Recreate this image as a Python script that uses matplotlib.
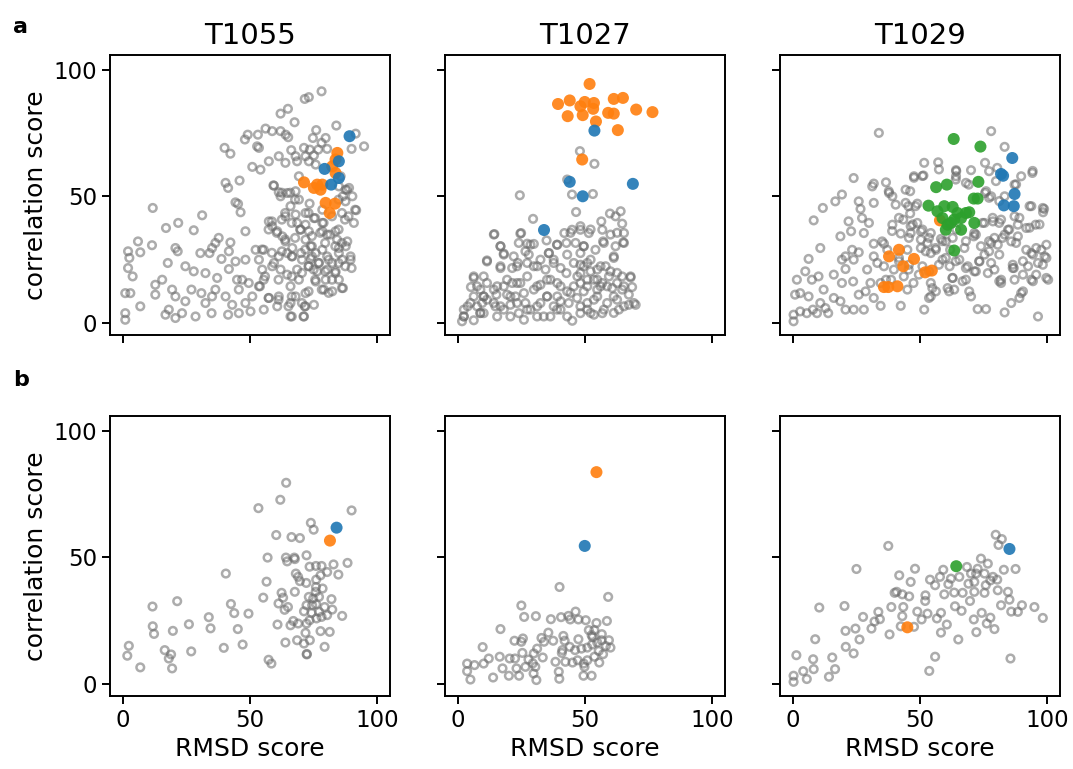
import numpy as np
import matplotlib

matplotlib.use("Agg")
import matplotlib.pyplot as plt  # noqa: E402

TARGETS = ["T1055", "T1027", "T1029"]
ROW_LABELS = ["a", "b"]

# (RMSD score, correlation score) per model; row a = all models, row b = subset
a_T1055_gray = [
    (78.1, 91.4), (71.5, 88.4), (73.1, 89.1), (64.9, 84.5), (62.0, 82.6), (67.5, 79.2),
    (56.1, 76.7), (49.1, 74.3), (53.1, 74.3), (58.7, 75.7), (62.0, 75.7), (64.0, 74.3),
    (65.0, 73.3), (48.0, 72.4), (52.8, 69.7), (53.5, 69.1), (76.0, 76.1), (83.9, 77.9),
    (74.7, 73.0), (79.7, 73.0), (78.1, 71.1), (71.2, 69.1), (73.5, 68.4), (76.8, 68.4),
    (80.3, 68.7), (91.5, 74.7), (89.9, 68.7), (94.8, 69.7), (40.0, 69.1), (42.3, 66.8),
    (66.2, 68.2), (57.4, 63.8), (61.3, 65.8), (63.9, 63.2), (67.9, 65.8), (68.5, 63.8),
    (71.8, 65.8), (73.1, 63.8), (75.1, 66.1), (75.8, 62.5), (50.9, 61.6), (54.1, 60.5),
    (40.4, 55.3), (41.4, 53.3), (45.9, 56.2), (59.4, 54.2), (61.3, 51.6), (62.0, 50.0),
    (64.6, 51.3), (67.9, 52.0), (69.2, 48.7), (73.4, 47.1), (69.2, 57.9), (85.6, 57.9),
    (88.9, 53.3), (86.5, 50.0), (90.2, 50.0), (87.5, 48.0), (91.7, 44.5), (87.3, 40.8),
    (90.8, 39.5), (11.8, 45.4), (31.2, 42.5), (44.3, 47.6), (45.3, 47.0), (46.3, 43.7),
    (48.2, 36.2), (17.0, 37.5), (21.8, 39.5), (27.9, 36.6), (57.4, 40.1), (58.7, 38.2),
    (60.7, 36.2), (62.7, 34.2), (63.9, 32.2), (67.9, 42.8), (68.5, 39.5), (69.9, 36.8),
    (71.8, 38.8), (73.1, 36.2), (75.1, 41.4), (78.4, 39.5), (78.4, 36.2), (80.3, 34.9),
    (83.6, 36.2), (84.2, 32.9), (84.9, 29.6), (87.6, 30.3), (89.5, 26.3), (89.9, 21.7),
    (86.2, 25.0), (71.8, 32.9), (73.8, 30.3), (75.8, 27.6), (78.4, 28.9), (80.3, 26.3),
    (77.1, 23.7), (82.3, 23.7), (73.1, 22.4), (80.3, 21.1), (83.6, 20.4), (75.8, 16.4),
    (79.7, 17.1), (84.9, 17.1), (86.5, 13.8), (79.0, 13.2), (82.3, 12.5), (71.8, 11.8),
    (67.9, 10.5), (65.9, 7.9), (71.5, 6.6), (65.9, 2.6), (71.2, 2.6), (75.1, 7.2),
    (61.3, 10.5), (60.7, 6.6), (55.4, 5.3), (57.4, 9.9), (53.5, 14.5), (49.5, 15.8),
    (46.9, 17.1), (45.6, 13.2), (44.9, 17.1), (54.8, 21.1), (55.4, 17.1), (58.7, 22.4),
    (62.0, 21.1), (64.6, 19.1), (68.5, 21.1), (69.2, 17.1), (65.9, 14.5), (61.3, 26.3),
    (55.4, 28.9), (53.5, 25.0), (52.2, 28.9), (59.4, 23.7), (66.6, 26.3), (66.6, 29.6),
    (70.0, 27.6), (64.6, 27.6), (42.3, 31.8), (41.7, 28.3), (37.7, 33.6), (36.4, 31.6),
    (35.1, 29.6), (34.1, 27.6), (30.5, 27.6), (38.8, 25.3), (44.3, 24.3), (48.2, 25.0),
    (41.7, 21.3), (37.1, 17.8), (32.5, 19.7), (27.9, 20.4), (24.6, 22.4), (17.7, 23.7),
    (20.7, 29.6), (21.6, 28.3), (11.5, 30.7), (6.0, 32.2), (6.9, 27.9), (2.1, 28.3),
    (2.6, 25.7), (2.1, 21.7), (3.9, 18.4), (12.8, 15.1), (15.5, 17.1), (19.4, 13.2),
    (20.7, 10.5), (24.6, 8.6), (27.0, 13.2), (30.9, 11.8), (36.4, 13.2), (35.1, 10.5),
    (32.5, 7.9), (28.6, 2.6), (23.3, 3.9), (20.7, 2.0), (16.8, 3.3), (18.1, 5.3),
    (12.8, 11.2), (6.9, 6.6), (3.0, 11.8), (1.0, 11.8), (1.0, 3.9), (1.0, 1.3),
    (41.4, 3.3), (43.0, 7.2), (48.2, 7.9), (45.6, 3.9), (50.2, 4.6), (34.9, 3.9),
    (40.4, 10.5), (50.9, 10.5), (73.8, 25.3), (76.4, 20.4), (84.9, 27.6), (89.5, 25.0),
    (88.2, 32.2), (78.4, 44.7), (71.8, 43.4), (65.9, 46.1), (63.9, 42.1), (87.5, 52.6),
    (84.9, 53.9),
    # dense block around RMSD 55-90
    (59.2, 54.3), (62.5, 51.4), (65.8, 51.4), (67.7, 48.7), (63.8, 43.4), (62.5, 40.8),
    (66.4, 39.5), (58.6, 40.1), (57.3, 36.9), (60.5, 35.6), (63.8, 33.0), (67.7, 33.6),
    (69.7, 36.9), (74.3, 34.3), (78.9, 39.5), (77.6, 35.6), (81.5, 34.9), (84.8, 36.9),
    (74.3, 30.3), (79.5, 31.6), (83.5, 30.3), (86.1, 31.6), (71.7, 29.0), (54.7, 29.0),
    (58.6, 27.7), (62.5, 28.3), (66.4, 26.3), (70.4, 25.0), (74.3, 26.3), (76.9, 23.7),
    (80.9, 25.0), (84.8, 23.7), (73.0, 22.4), (75.0, 21.1), (79.5, 20.4), (83.5, 19.8),
    (87.4, 22.4), (70.4, 19.8), (66.4, 18.4), (61.2, 17.1), (55.9, 18.4), (53.9, 14.5),
    (57.3, 9.9), (61.2, 9.2), (66.4, 10.5), (70.4, 7.9), (73.0, 12.5), (78.2, 13.2),
    (80.9, 11.9), (86.1, 13.8), (82.2, 17.1), (75.6, 17.1), (66.4, 2.6), (71.0, 2.6),
    (71.7, 6.6), (65.1, 6.6), (84.8, 48.7), (88.1, 52.6), (88.7, 42.1), (91.3, 44.7),
    (86.1, 43.4), (82.2, 42.1), (73.0, 43.4), (75.6, 41.4),
]
a_T1055_orange = [
    (84.3, 67.1), (83.6, 64.5), (82.3, 61.8), (83.6, 59.2), (71.2, 55.5), (76.4, 54.6),
    (75.1, 53.3), (78.4, 54.6), (77.7, 52.6), (79.7, 47.4), (83.4, 47.1), (81.3, 43.4),
]
a_T1055_green = []
a_T1055_blue = [(89.1, 73.7), (79.3, 60.8), (84.9, 63.8), (84.9, 57.2), (81.9, 54.6)]

a_T1027_gray = [
    (48.0, 67.8), (53.7, 62.8), (43.0, 56.6), (24.4, 50.4), (44.9, 50.7), (53.1, 50.9),
    (46.5, 43.8), (29.6, 41.1), (59.8, 43.2), (64.0, 44.1), (56.4, 40.1), (64.6, 39.2),
    (62.0, 42.1), (14.4, 35.1), (24.9, 35.5), (24.0, 31.6), (16.8, 30.3), (11.5, 24.7),
    (18.1, 27.4), (27.3, 31.3), (26.6, 28.3), (29.9, 31.2), (34.9, 32.6), (39.1, 30.9),
    (41.9, 35.5), (44.9, 36.8), (48.2, 36.8), (51.5, 35.5), (56.8, 36.8), (60.0, 34.9),
    (65.3, 35.5), (65.0, 31.8), (62.0, 30.3), (57.1, 32.2), (54.1, 28.9), (49.5, 30.3),
    (46.3, 31.6), (42.7, 31.6), (35.8, 27.6), (37.7, 25.0), (6.3, 17.8), (5.2, 14.2),
    (10.2, 18.4), (16.8, 21.7), (21.4, 21.7), (23.6, 23.7), (27.3, 23.7), (31.2, 22.4),
    (34.5, 21.1), (40.4, 21.7), (45.6, 23.7), (48.2, 27.6), (50.9, 23.7), (52.2, 20.4),
    (54.8, 21.1), (58.1, 22.4), (61.3, 25.7), (59.4, 18.4), (64.6, 18.4), (67.9, 18.0),
    (68.5, 14.2), (67.2, 11.2), (69.9, 7.2), (63.3, 5.3), (58.7, 7.9), (54.8, 10.5),
    (49.5, 12.5), (48.2, 15.8), (45.6, 14.5), (43.0, 12.5), (39.1, 15.8), (35.1, 17.1),
    (32.5, 15.1), (29.9, 13.2), (24.6, 15.8), (21.4, 15.8), (18.1, 14.5), (14.2, 13.2),
    (11.5, 9.2), (14.8, 6.6), (16.8, 6.6), (20.7, 7.2), (24.0, 3.9), (26.6, 7.9),
    (28.6, 5.3), (32.5, 7.9), (35.1, 10.5), (37.7, 6.6), (40.4, 5.3), (45.0, 0.9),
    (48.2, 3.9), (50.9, 5.3), (53.5, 3.3), (56.8, 3.9), (50.9, 7.9), (46.9, 9.9),
    (43.6, 7.9), (36.4, 2.6), (31.2, 2.6), (26.0, 1.3), (20.7, 2.6), (15.5, 2.6),
    (10.2, 3.9), (6.3, 1.1), (2.4, 2.6), (1.7, 0.7), (3.9, 6.6), (7.6, 6.6),
    (8.9, 3.9), (10.2, 10.5), (6.3, 10.5), (64.6, 13.2), (61.3, 10.5), (67.2, 7.2),
    (56.1, 14.5), (60.7, 13.8), (62.6, 15.8), (48.2, 19.7), (49.5, 22.4), (42.7, 19.7),
    (50.9, 17.1), (53.5, 17.1), (56.8, 15.8), (39.1, 10.5), (26.0, 11.8), (22.7, 10.5),
    (19.4, 11.2), (15.2, 11.2), (8.9, 13.2), (9.6, 7.9),
    # dense low band
    (14.2, 34.9), (24.6, 35.3), (16.8, 30.3), (18.1, 27.0), (28.6, 30.9), (11.5, 24.3),
    (22.0, 26.3), (27.9, 27.0), (16.8, 22.4), (23.3, 22.4), (29.9, 22.4), (35.8, 27.6),
    (39.0, 30.9), (44.3, 35.6), (48.2, 38.2), (52.2, 36.9), (57.4, 31.6), (62.6, 35.6),
    (65.3, 31.6), (61.3, 26.3), (49.5, 30.3), (43.0, 27.0), (37.7, 23.7), (32.5, 25.0),
    (48.2, 23.0), (52.2, 25.0), (56.1, 22.4), (60.0, 20.4), (67.9, 18.4), (65.3, 14.5),
    (69.2, 7.9), (65.3, 6.6), (58.7, 14.5), (54.8, 17.1), (50.9, 14.5), (47.0, 18.4),
    (44.3, 11.9), (40.4, 14.5), (36.4, 17.1), (35.1, 10.5), (31.2, 14.5), (27.3, 18.4),
    (23.3, 15.8), (19.4, 17.1), (15.5, 14.5), (11.5, 15.8), (7.6, 14.5), (6.3, 18.4),
    (10.2, 10.5), (14.2, 7.9), (5.0, 7.9), (2.4, 5.3), (2.4, 2.6), (8.9, 4.0),
    (18.1, 5.3), (23.3, 7.9), (27.3, 5.3), (31.2, 6.6), (33.8, 2.6), (39.0, 5.3),
    (43.0, 2.6), (48.2, 6.6), (52.2, 4.0), (57.4, 5.3), (61.3, 4.0), (62.6, 9.2),
    (53.5, 9.2), (40.4, 8.6), (20.7, 10.5), (62.6, 19.8), (54.8, 13.2),
]
a_T1027_orange = [
    (51.8, 94.3), (39.4, 86.4), (44.0, 87.8), (48.2, 85.5), (49.9, 87.2), (53.5, 86.8),
    (53.2, 84.5), (61.3, 88.4), (64.9, 88.8), (43.2, 81.6), (49.1, 82.0), (59.1, 82.9),
    (61.3, 82.6), (70.1, 84.2), (76.5, 83.2), (54.3, 79.5), (62.9, 76.1), (48.9, 64.5),
]
a_T1027_green = []
a_T1027_blue = [(53.7, 75.9), (44.0, 55.7), (49.1, 50.0), (68.8, 54.9), (33.9, 36.7)]

a_T1029_gray = [
    (33.8, 75.0), (77.9, 75.7), (83.2, 69.5), (51.6, 63.2), (57.1, 63.4), (75.5, 63.2),
    (64.1, 60.3), (70.0, 60.3), (80.3, 61.2), (94.1, 59.2), (47.6, 57.9), (51.3, 58.2),
    (64.1, 57.9), (69.1, 54.6), (89.7, 57.9), (23.9, 57.2), (31.2, 53.9), (31.8, 55.0),
    (36.6, 55.5), (44.3, 52.6), (46.1, 52.0), (37.8, 51.3), (39.1, 50.0), (75.5, 51.3),
    (77.9, 50.0), (83.2, 50.0), (87.1, 54.6), (19.3, 50.7), (16.7, 48.0), (25.9, 48.0),
    (11.8, 45.4), (8.2, 40.5), (31.8, 47.4), (26.6, 45.0), (21.9, 40.1), (27.2, 41.4),
    (29.9, 39.5), (22.9, 36.2), (27.9, 35.5), (18.7, 34.2), (39.1, 38.8), (43.4, 40.8),
    (46.1, 43.2), (45.4, 46.1), (48.9, 47.1), (46.3, 38.2), (48.9, 39.5), (50.3, 36.2),
    (42.4, 35.3), (46.3, 35.5), (54.2, 35.5), (58.2, 33.2), (62.8, 33.6), (71.1, 34.2),
    (71.3, 35.5), (75.3, 39.5), (78.6, 40.1), (81.8, 40.8), (84.5, 36.8), (88.4, 38.8),
    (91.7, 37.5), (95.4, 38.8), (93.7, 46.1), (98.7, 45.0), (98.3, 43.7), (87.1, 42.1),
    (83.2, 34.9), (77.9, 31.6), (80.5, 30.9), (85.8, 32.2), (88.4, 34.2), (73.9, 30.3),
    (67.4, 29.6), (60.1, 32.2), (61.8, 28.9), (56.2, 28.9), (52.9, 31.6), (50.3, 29.6),
    (35.8, 31.3), (31.8, 31.3), (25.9, 27.9), (23.3, 28.9), (20.7, 26.3), (10.8, 29.6),
    (6.2, 25.3), (19.3, 25.0), (23.9, 25.0), (20.7, 21.3), (16.1, 19.1), (19.3, 15.8),
    (23.7, 16.4), (29.2, 21.1), (33.2, 23.7), (31.8, 26.3), (35.1, 32.2), (36.6, 17.1),
    (42.4, 6.8), (54.2, 15.8), (54.2, 10.5), (56.2, 12.5), (51.6, 5.3), (50.9, 22.4),
    (54.2, 27.6), (58.8, 25.0), (61.6, 22.4), (65.4, 25.0), (68.7, 22.4), (71.3, 20.4),
    (73.3, 24.3), (75.3, 27.0), (77.9, 23.7), (68.0, 17.1), (62.8, 17.8), (60.8, 13.8),
    (63.4, 13.2), (70.0, 10.5), (72.6, 5.5), (75.9, 5.5), (83.2, 4.2), (85.8, 7.9),
    (89.7, 11.8), (81.8, 15.8), (81.8, 17.1), (86.8, 21.7), (87.1, 17.1), (92.4, 22.4),
    (93.7, 17.1), (96.3, 23.7), (97.6, 28.9), (98.9, 26.3), (99.6, 17.8), (100.3, 17.1),
    (96.3, 2.6), (93.7, 27.6), (91.7, 28.9), (76.6, 19.7), (79.2, 21.1), (28.6, 12.5),
    (25.9, 11.2), (27.9, 5.3), (31.8, 9.9), (34.5, 6.8), (23.9, 5.3), (20.7, 5.3),
    (18.7, 8.6), (16.1, 9.9), (12.1, 13.2), (10.1, 18.4), (7.5, 17.1), (4.9, 20.4),
    (1.6, 17.1), (2.9, 11.8), (0.9, 11.2), (6.2, 10.5), (10.8, 7.9), (13.9, 3.9),
    (9.5, 3.9), (5.5, 3.9), (2.9, 4.6), (0.3, 3.3), (0.3, 0.7), (7.9, 5.3),
    (12.8, 5.9), (38.6, 17.1), (43.6, 18.4), (45.5, 21.1), (47.4, 15.8), (45.0, 13.2),
    (34.5, 15.8), (30.5, 15.8), (39.7, 21.1), (35.8, 22.4), (41.7, 25.7), (45.0, 28.9),
    (37.1, 28.9), (50.3, 32.9), (79.2, 33.6),
    # right-hand block
    (47.6, 57.3), (50.9, 58.0), (57.4, 60.6), (64.2, 59.9), (64.0, 56.6), (68.0, 55.3),
    (77.1, 59.9), (79.8, 56.0), (94.2, 60.0), (75.9, 52.0), (77.1, 49.4), (81.1, 48.1),
    (87.7, 54.7), (93.0, 46.1), (98.2, 45.4), (37.7, 52.0), (40.4, 46.7), (44.3, 47.4),
    (48.2, 46.1), (41.7, 41.5), (47.1, 38.9), (50.9, 36.9), (39.0, 36.3), (45.6, 33.6),
    (53.5, 33.6), (58.8, 32.3), (64.2, 36.9), (68.0, 32.3), (71.9, 34.9), (74.5, 39.5),
    (78.5, 41.5), (81.1, 39.5), (85.0, 36.9), (89.0, 41.5), (93.0, 37.6), (96.9, 38.9),
    (77.1, 32.3), (82.4, 33.6), (87.7, 31.6), (95.6, 29.6), (99.6, 30.9), (99.6, 25.7),
    (94.3, 27.0), (90.4, 24.4), (86.4, 23.0), (81.1, 27.0), (77.1, 28.3), (73.2, 24.4),
    (71.9, 20.4), (68.0, 21.7), (64.0, 24.4), (60.1, 25.7), (56.1, 29.6), (52.2, 28.3),
    (57.4, 23.0), (53.5, 20.4), (49.5, 19.1), (45.6, 23.0), (41.7, 24.4), (62.7, 17.8),
    (66.7, 16.5), (69.3, 12.5), (61.4, 12.5), (54.8, 13.8), (53.5, 9.9), (81.1, 16.5),
    (86.4, 21.7), (90.4, 19.1), (95.6, 19.1), (98.2, 23.0), (94.3, 16.5), (90.4, 12.5),
    (89.0, 9.9),
]
a_T1029_orange = [
    (57.8, 40.5), (41.7, 28.9), (37.8, 26.3), (47.6, 25.3), (43.4, 22.4), (52.0, 20.0),
    (54.6, 20.7), (35.8, 14.2), (37.5, 14.2), (41.1, 14.5),
]
a_T1029_green = [
    (63.2, 72.6), (73.7, 69.6), (56.3, 53.6), (60.5, 54.6), (72.9, 55.7), (71.1, 49.1),
    (72.6, 49.1), (53.3, 46.3), (56.8, 44.1), (59.5, 46.1), (62.8, 45.8), (64.7, 43.4),
    (68.0, 43.4), (69.3, 43.7), (66.1, 41.4), (63.4, 40.8), (60.8, 38.8), (62.1, 39.5),
    (71.3, 39.5), (60.1, 36.8), (66.1, 36.8), (63.4, 28.6), (58.8, 41.4),
]
a_T1029_blue = [(86.2, 65.1), (81.8, 58.8), (82.6, 58.1), (87.1, 50.9), (82.9, 46.4), (86.8, 46.1)]

b_T1055_gray = [
    (64.2, 79.4), (61.9, 72.7), (53.3, 69.4), (89.9, 68.5), (73.9, 63.6), (75.0, 60.9),
    (60.3, 58.8), (66.3, 58.0), (69.6, 57.6), (56.9, 49.9), (64.1, 49.9), (64.6, 48.4),
    (67.4, 49.9), (67.6, 49.3), (72.2, 50.8), (73.4, 46.3), (75.9, 46.6), (78.1, 46.6),
    (82.8, 47.2), (88.3, 47.8), (80.3, 44.2), (84.7, 43.2), (40.5, 43.6), (68.0, 43.6),
    (68.9, 42.3), (56.5, 40.4), (69.6, 40.6), (72.1, 39.9), (76.0, 41.2), (77.7, 42.9),
    (75.9, 38.3), (78.5, 37.7), (75.8, 36.4), (62.4, 36.0), (67.6, 36.4), (55.2, 34.1),
    (63.0, 34.1), (61.2, 31.8), (63.6, 29.3), (64.9, 30.4), (73.1, 34.4), (74.8, 33.7),
    (77.1, 34.4), (82.0, 33.5), (72.2, 31.1), (74.4, 31.1), (76.0, 31.5), (79.3, 30.4),
    (82.3, 29.4), (71.2, 28.7), (74.2, 28.1), (77.1, 28.5), (80.3, 27.2), (86.2, 26.9),
    (76.1, 25.9), (78.1, 26.5), (60.8, 23.5), (65.9, 23.2), (67.0, 24.9), (68.9, 23.9),
    (72.2, 23.9), (73.4, 25.2), (71.8, 20.2), (77.7, 20.9), (81.3, 20.6), (63.9, 16.4),
    (68.5, 17.3), (73.5, 17.3), (71.2, 16.0), (79.3, 14.7), (72.3, 11.7), (72.3, 11.9),
    (57.3, 9.6), (58.4, 8.1), (11.7, 30.6), (21.4, 32.7), (11.8, 22.8), (12.3, 19.8),
    (19.7, 21.0), (26.0, 23.6), (33.8, 26.4), (34.5, 22.0), (42.5, 31.6), (43.8, 28.0),
    (49.4, 27.8), (45.2, 21.7), (2.4, 15.1), (1.8, 11.2), (6.9, 6.6), (16.5, 13.4),
    (19.0, 11.7), (18.1, 10.1), (19.4, 6.2), (26.9, 12.9), (39.7, 14.3), (47.1, 15.6),
]
b_T1055_orange = [(81.4, 56.6)]
b_T1055_green = []
b_T1055_blue = [(84.0, 61.7)]

b_T1027_gray = [
    (40.0, 38.3), (59.1, 34.4), (25.0, 31.0), (26.1, 26.5), (30.7, 26.8), (36.6, 25.6),
    (40.6, 26.4), (43.5, 26.9), (46.3, 28.6), (44.2, 25.5), (47.4, 25.5), (50.3, 25.2),
    (54.5, 24.1), (58.6, 24.9), (16.8, 21.7), (9.8, 14.6), (22.3, 17.1), (25.6, 18.0),
    (25.0, 16.7), (32.9, 18.2), (33.9, 16.7), (35.6, 20.3), (37.5, 17.1), (41.5, 19.0),
    (42.0, 17.1), (47.4, 17.7), (51.5, 21.3), (52.6, 19.3), (53.7, 21.3), (56.6, 19.7),
    (56.5, 17.3), (59.4, 17.3), (60.0, 14.4), (52.8, 15.6), (50.9, 14.4), (48.6, 14.0),
    (46.1, 13.4), (44.0, 14.7), (41.1, 13.4), (40.9, 12.3), (55.4, 13.1), (57.1, 11.8),
    (55.6, 8.5), (50.9, 9.4), (49.5, 8.1), (47.1, 9.4), (45.1, 8.5), (42.3, 8.8),
    (38.4, 8.8), (31.2, 14.0), (29.9, 12.1), (25.4, 12.3), (22.5, 10.1), (20.4, 10.1),
    (16.5, 10.8), (12.2, 10.1), (10.2, 8.1), (6.6, 7.5), (3.7, 8.1), (3.7, 5.1),
    (5.0, 1.8), (13.9, 2.6), (17.6, 6.2), (20.1, 3.3), (24.1, 3.3), (23.1, 6.2),
    (26.6, 6.8), (30.5, 6.8), (30.9, 1.6), (29.8, 4.2), (27.8, 9.7), (33.4, 10.5),
    (39.7, 4.9), (39.9, 2.1), (49.8, 6.8), (49.4, 3.3), (52.6, 3.3), (53.7, 10.8),
    (53.0, 18.5), (54.8, 16.4), (58.2, 15.0), (29.5, 8.2),
]
b_T1027_orange = [(54.5, 83.6)]
b_T1027_green = []
b_T1027_blue = [(49.9, 54.5)]

b_T1029_gray = [
    (79.7, 58.9), (82.1, 57.2), (80.8, 54.9), (37.5, 54.5), (25.0, 45.4), (48.0, 45.5),
    (59.1, 45.1), (68.4, 46.2), (73.9, 49.5), (76.6, 47.5), (72.6, 45.5), (82.9, 45.1),
    (87.5, 45.4), (41.8, 42.9), (46.3, 40.3), (53.9, 41.2), (57.8, 42.3), (62.1, 41.6),
    (65.4, 42.3), (70.0, 43.6), (72.0, 43.6), (75.3, 43.6), (78.6, 42.3), (77.6, 40.9),
    (80.3, 41.2), (61.1, 39.4), (69.0, 39.6), (71.3, 40.3), (75.8, 39.0), (63.4, 36.1),
    (59.5, 35.4), (55.9, 39.0), (66.7, 36.0), (71.3, 36.4), (75.3, 36.0), (80.5, 37.0),
    (84.5, 36.4), (40.0, 36.0), (40.8, 36.4), (43.0, 35.4), (45.7, 34.6), (52.1, 35.0),
    (52.0, 32.8), (69.6, 32.8), (85.1, 33.3), (10.4, 30.2), (20.3, 30.8), (38.7, 30.4),
    (43.4, 30.4), (63.7, 30.7), (66.3, 28.9), (81.8, 31.1), (90.0, 31.1), (94.9, 30.4),
    (85.8, 28.6), (88.4, 28.5), (27.6, 26.5), (33.6, 28.5), (43.0, 26.8), (48.9, 28.6),
    (52.9, 27.8), (58.2, 28.1), (32.1, 24.7), (34.2, 25.6), (50.6, 25.5), (56.6, 25.9),
    (60.5, 23.5), (71.1, 25.5), (74.2, 28.1), (77.6, 26.2), (76.2, 23.9), (79.2, 21.7),
    (98.2, 26.1), (20.7, 21.0), (24.6, 21.9), (30.9, 21.9), (42.4, 22.8), (47.6, 22.6),
    (58.2, 20.3), (72.1, 20.5), (8.8, 17.7), (26.2, 17.6), (20.8, 14.7), (38.0, 19.6),
    (65.0, 17.6), (23.9, 12.1), (1.4, 11.4), (8.0, 9.8), (15.5, 10.5), (55.9, 10.8),
    (85.5, 10.1), (4.1, 5.1), (8.2, 5.9), (16.6, 5.9), (5.5, 2.0), (14.2, 2.9),
    (0.3, 3.3), (0.3, 0.9), (53.6, 5.2),
]
b_T1029_orange = [(45.0, 22.4)]
b_T1029_green = [(64.2, 46.5)]
b_T1029_blue = [(85.1, 53.3)]

PANELS = [
    [(a_T1055_gray, a_T1055_orange, a_T1055_green, a_T1055_blue),
     (a_T1027_gray, a_T1027_orange, a_T1027_green, a_T1027_blue),
     (a_T1029_gray, a_T1029_orange, a_T1029_green, a_T1029_blue)],
    [(b_T1055_gray, b_T1055_orange, b_T1055_green, b_T1055_blue),
     (b_T1027_gray, b_T1027_orange, b_T1027_green, b_T1027_blue),
     (b_T1029_gray, b_T1029_orange, b_T1029_green, b_T1029_blue)],
]

plt.rcParams.update({
    "font.family": "DejaVu Sans",
    "xtick.labelsize": 16.5,
    "ytick.labelsize": 16.5,
    "axes.linewidth": 1.4,
    "xtick.major.width": 1.4,
    "ytick.major.width": 1.4,
    "xtick.major.size": 5.5,
    "ytick.major.size": 5.5,
})

fig, axes = plt.subplots(2, 3, figsize=(10.73, 7.69), dpi=100, sharex=True, sharey=True)

lefts = [0.1025, 0.4147, 0.727]
bottoms = [0.5644, 0.0949]
W, H = 0.261, 0.364


def _xy(pts):
    arr = np.asarray(pts, dtype=float).reshape(-1, 2)
    return arr[:, 0], arr[:, 1]


for r in range(2):
    for c in range(3):
        ax = axes[r, c]
        ax.set_position([lefts[c], bottoms[r], W, H])
        gray, orange, green, blue = PANELS[r][c]
        x, y = _xy(gray)
        ax.scatter(x, y, s=30, facecolors="none", edgecolors="dimgray",
                   linewidths=1.8, alpha=0.55, zorder=2)
        for pts, col in ((orange, "tab:orange"), (green, "tab:green"), (blue, "tab:blue")):
            if len(pts) == 0:
                continue
            x, y = _xy(pts)
            ax.scatter(x, y, s=75, color=col, edgecolors="none", alpha=0.9, zorder=3)
        ax.set_xlim(-5, 105)
        ax.set_ylim(-4.7, 105.7)
        ax.set_xticks([0, 50, 100])
        ax.set_yticks([0, 50, 100])
        if r == 0:
            ax.set_title(TARGETS[c], fontsize=21, pad=8)
        if r == 1:
            ax.set_xlabel("RMSD score", fontsize=18)
        if c == 0:
            ax.set_ylabel("correlation score", fontsize=18)

fig.text(0.012, 0.957, ROW_LABELS[0], fontsize=16, fontweight="bold", ha="left", va="baseline")
fig.text(0.012, 0.498, ROW_LABELS[1], fontsize=16, fontweight="bold", ha="left", va="baseline")

fig.savefig("out.png", dpi=100)
plt.close(fig)
